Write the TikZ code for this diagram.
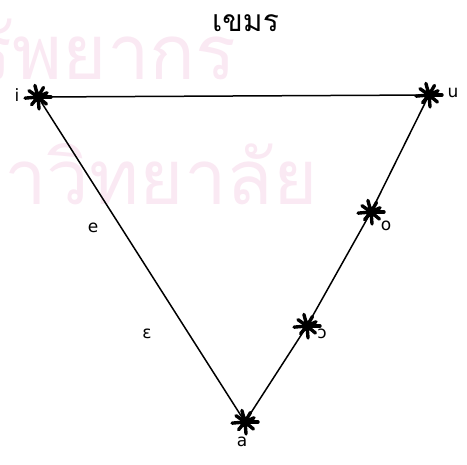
\documentclass[tikz,border=0pt]{standalone}
\usepackage{fontspec}
\setmainfont{DejaVu Sans}
\newfontfamily\thaifont[Script=Thai]{Loma}
\definecolor{wm}{RGB}{250,233,243}
\begin{document}
\begin{tikzpicture}[x=1pt,y=-1pt,
  edge/.style={line width=1.5pt, black},
  lab/.style={font=\fontsize{17}{17}\selectfont, inner sep=0pt},
  wmtext/.style={font=\thaifont\fontsize{76}{76}\selectfont, text=wm, anchor=base east, inner sep=0pt},
  splat/.pic={
    \fill[black] (0,0) circle (5.5);
    \foreach \a/\r in {0/13,40/11,85/12,130/10,175/13,215/11,255/12,300/11,335/10}
      \draw[line width=3.4pt, line cap=round, black] (0,0) -- (\a:\r);
  }]
\useasboundingbox (0,0) rectangle (467,465);
% watermark
\begin{scope}
\clip (0,0) rectangle (467,465);
\node[wmtext] (wm1) at (237,80) {ทรัพยากร};
\node[wmtext] (wm2) at (318,205) {มหาวิทยาลัย};
\end{scope}
% title
\node[font=\thaifont\fontsize{30}{30}\selectfont, inner sep=0pt, anchor=base west] (title) at (212,32) {เขมร};
% vertices and points
\coordinate (i) at (38,97);
\coordinate (u) at (429,95);
\coordinate (a) at (245,422);
\coordinate (o) at (371,212);
\coordinate (oo) at (307,326);
\draw[edge] (i) -- (u);
\draw[edge] (i) -- (a);
\draw[edge] (a) -- (oo) -- (o) -- (u);
\pic at (i) {splat};
\pic at (u) {splat};
\pic at (a) {splat};
\pic at (o) {splat};
\pic at (oo) {splat};
% labels
\node[lab] (li) at (17,95) {i};
\node[lab] (lu) at (453,93) {u};
\node[lab] (la) at (242,442) {a};
\node[lab] (lo) at (386,226) {o};
\node[lab] (loo) at (322,334) {ɔ};
\node[lab] (le) at (93,228) {e};
\node[lab] (lee) at (147,334) {ε};
\end{tikzpicture}
\end{document}
